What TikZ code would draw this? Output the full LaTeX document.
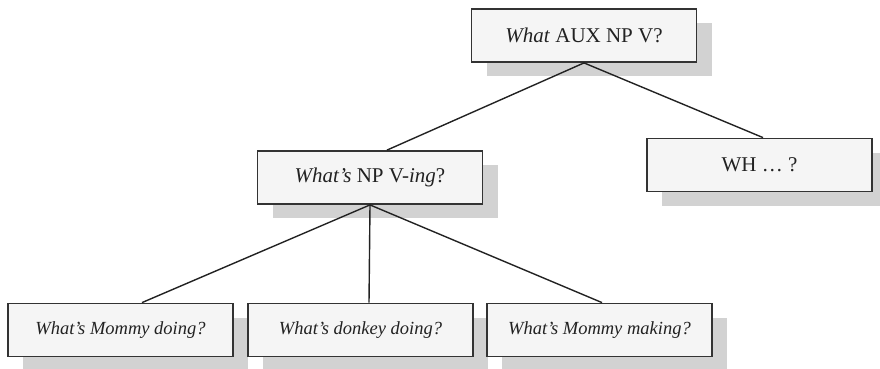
\documentclass[tikz,border=0pt]{standalone}
\usepackage{fontspec}
\setmainfont{Liberation Serif}
\usetikzlibrary{shadows}
\definecolor{boxfill}{HTML}{F5F5F5}
\definecolor{boxedge}{HTML}{333333}
\definecolor{shade}{HTML}{D2D2D2}
\definecolor{ink}{HTML}{222222}
\tikzset{
  qbox/.style={draw=boxedge, line width=1.8pt, fill=boxfill, text=ink,
    minimum width=225pt, minimum height=53pt, inner sep=0pt,
    drop shadow={shadow xshift=15pt, shadow yshift=-14pt, fill=shade, opacity=1}},
  big/.style={font=\fontsize{21}{25}\selectfont},
  small/.style={font=\fontsize{18.5}{22}\selectfont},
  link/.style={draw=ink, line width=1.4pt}
}
\begin{document}
\begin{tikzpicture}[x=1pt, y=-1pt]
  \useasboundingbox (0,0) rectangle (880,368);
  % boxes
  \node[qbox, big] (top) at (584,35.5) {\textit{What} AUX NP V?};
  \node[qbox, big] (mid) at (370,177.5) {\textit{What’s} NP V-\textit{ing}?};
  \node[qbox, big] (wh)  at (759.5,165) {WH … ?};
  \node[qbox, small] (b1) at (120.5,330) {\textit{What’s Mommy doing?}};
  \node[qbox, small] (b2) at (360.5,330) {\textit{What’s donkey doing?}};
  \node[qbox, small] (b3) at (599.5,330) {\textit{What’s Mommy making?}};
  % connectors
  \draw[link] (top.south) -- ([xshift=17pt]mid.north);
  \draw[link] (top.south) -- ([xshift=3.5pt]wh.north);
  \draw[link] (mid.south) -- ([xshift=21.5pt]b1.north);
  \draw[link] (mid.south) -- ([xshift=8.5pt]b2.north);
  \draw[link] (mid.south) -- ([xshift=2.5pt]b3.north);
\end{tikzpicture}
\end{document}
